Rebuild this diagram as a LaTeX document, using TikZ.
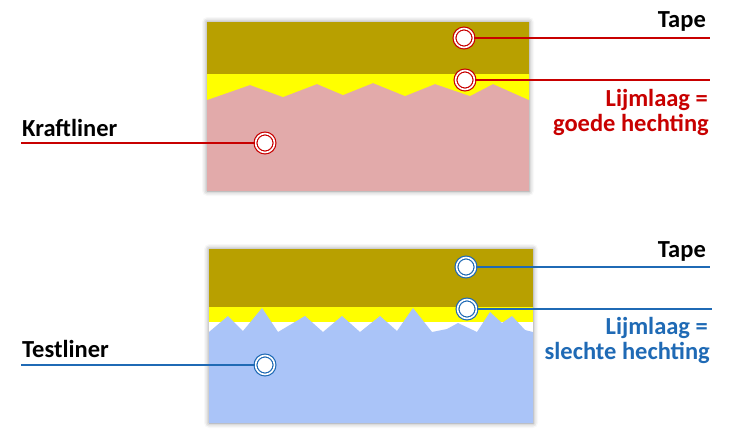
\documentclass[tikz,border=0pt]{standalone}
\usepackage{fontspec}
\setmainfont{Carlito}
\usetikzlibrary{shadows.blur}
\definecolor{tapec}{HTML}{B8A000}
\definecolor{glue}{HTML}{FFFF00}
\definecolor{kraft}{HTML}{E2AAAA}
\definecolor{testc}{HTML}{AAC4F8}
\definecolor{redc}{HTML}{C80000}
\definecolor{bluec}{HTML}{1F6AB5}
\tikzset{
  marker/.style={circle, minimum size=19pt, inner sep=0pt, fill=white, draw=#1, double=white, double distance=1.6pt, line width=1.2pt},
  lead/.style={draw=#1, line width=1.8pt},
  lbl/.style={font=\fontsize{24.5}{29}\selectfont\bfseries, inner sep=0pt, text=#1},
  panel/.style={blur shadow={shadow xshift=0pt, shadow yshift=0pt, shadow blur radius=5pt, shadow opacity=45}}
}
\begin{document}
\begin{tikzpicture}[x=1pt,y=-1pt]
\useasboundingbox (0,0) rectangle (730,442);
% ---- top panel
\fill[white, panel] (207,22) rectangle (529,191);
\fill[kraft] (207,74) rectangle (529,191);
\fill[tapec] (207,22) rectangle (529,74);
\fill[glue] (207,74) -- (529,74) -- (529,100) -- (493,84) -- (470,96) -- (435,84) -- (405,96) -- (373,83) -- (343,95) -- (317,84) -- (283,97) -- (250,85) -- (207,100) -- cycle;
\node[marker=redc] (t1) at (464,38) {};
\node[marker=redc] (g1) at (465,80) {};
\node[marker=redc] (k1) at (265,143) {};
\coordinate (t1e) at (710,38);
\coordinate (g1e) at (710,80);
\coordinate (k1e) at (21,143);
\draw[lead=redc] (t1) -- (t1e);
\draw[lead=redc] (g1) -- (g1e);
\draw[lead=redc] (k1) -- (k1e);
\node[lbl=black, anchor=base east] (tl1) at (706,27) {Tape};
\node[lbl=redc, anchor=base east] (gl1a) at (708,106) {Lijmlaag =};
\node[lbl=redc, anchor=base east] (gl1b) at (709,131) {goede hechting};
\node[lbl=black, anchor=base west] (kl) at (22,136) {Kraftliner};
% ---- bottom panel
\fill[white, panel] (209,249) rectangle (533,423);
\fill[tapec] (209,249) rectangle (533,307);
\fill[glue] (209,307) rectangle (533,322);
\fill[testc] (209,423) -- (209,332) -- (228,316) -- (243,331) -- (262,308) -- (278,332) -- (305,316) -- (323,332) -- (342,316) -- (360,332) -- (380,316) -- (397,331) -- (413,308) -- (432,332) -- (447,329) -- (458,323) -- (477,332) -- (490,312) -- (502,323) -- (512,316) -- (525,330) -- (533,332) -- (533,423) -- cycle;
\node[marker=bluec] (t2) at (466,267) {};
\node[marker=bluec] (g2) at (467,309) {};
\node[marker=bluec] (s2) at (265,365) {};
\coordinate (t2e) at (710,267);
\coordinate (g2e) at (712,309);
\coordinate (s2e) at (21,365);
\draw[lead=bluec] (t2) -- (t2e);
\draw[lead=bluec] (g2) -- (g2e);
\draw[lead=bluec] (s2) -- (s2e);
\node[lbl=black, anchor=base east] (tl2) at (706,257) {Tape};
\node[lbl=bluec, anchor=base east] (gl2a) at (708,334) {Lijmlaag =};
\node[lbl=bluec, anchor=base east] (gl2b) at (710,359) {slechte hechting};
\node[lbl=black, anchor=base west] (sl) at (22,357) {Testliner};
\end{tikzpicture}
\end{document}
